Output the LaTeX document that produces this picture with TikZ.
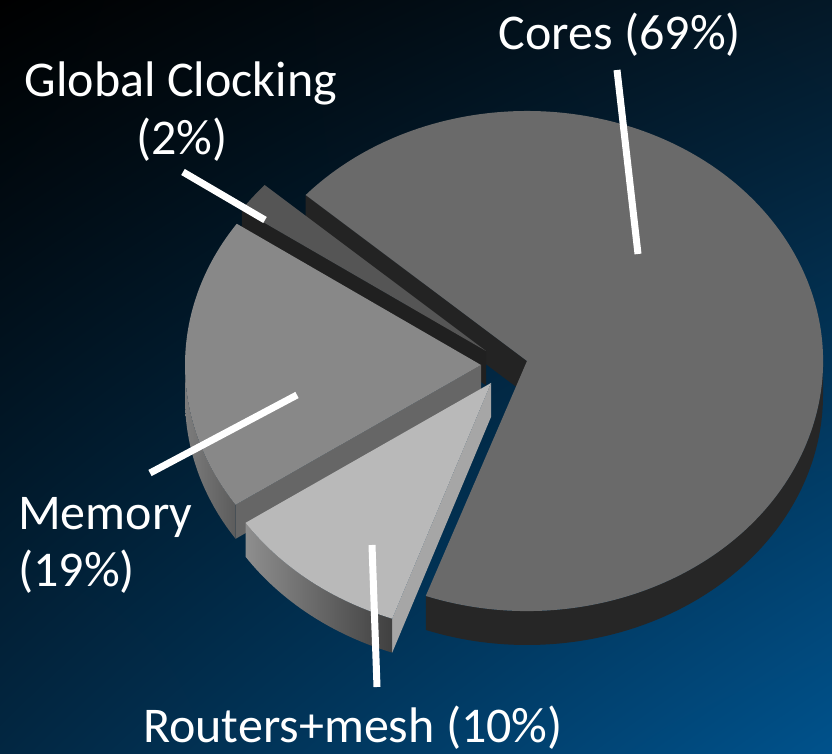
\documentclass[tikz,border=0pt]{standalone}
\usepackage{fontspec}
\setmainfont{Carlito}
\usetikzlibrary{calc,shadings}

% slice colours: top face, cut (radial) face, outer wall
\definecolor{coresTop}{HTML}{6A6A6A}
\definecolor{coresWall}{HTML}{262626}
\definecolor{coresCut}{HTML}{232323}
\definecolor{clockTop}{HTML}{555555}
\definecolor{clockCut}{HTML}{202020}
\definecolor{memTop}{HTML}{888888}
\definecolor{memCut}{HTML}{666666}
\definecolor{memWallL}{HTML}{7C7C7C}
\definecolor{memWallR}{HTML}{5C5C5C}
\definecolor{rtTop}{HTML}{B9B9B9}
\definecolor{rtCut}{HTML}{A6A6A6}
\definecolor{rtWallL}{HTML}{8E8E8E}
\definecolor{rtWallR}{HTML}{404040}
\definecolor{bgTR}{HTML}{041827}
\definecolor{bgBL}{HTML}{022742}
\definecolor{bgBR}{HTML}{00528C}

\tikzset{
  lbl/.style={text=white, inner sep=0pt, font=\fontsize{50}{57}\selectfont},
  leader/.style={draw=white, line width=7pt, line cap=butt},
  pieR/.style={x radius=296pt, y radius=250pt}
}

\begin{document}
\begin{tikzpicture}[x=1pt, y=1pt]
  \useasboundingbox (0,0) rectangle (832,754);
  \shade[upper left=black, upper right=bgTR, lower left=bgBL, lower right=bgBR]
    (0,0) rectangle (832,754);

  % apexes of the exploded slices
  \coordinate (cores) at (527,393);
  \coordinate (clock) at (486,403);
  \coordinate (mem)   at (481,389);
  \coordinate (rt)    at (491,371);

  % ---- Cores, 69% ----
  \fill[coresCut] (cores) -- ++(138.4:296pt and 250pt) -- ++(0,-34)
    -- ++(-41.6:296pt and 250pt) -- cycle;
  \fill[coresWall] ($(cores)+(-110:296pt and 250pt)$)
    arc[start angle=-110, end angle=0, pieR] -- ++(0,-34)
    arc[start angle=0, end angle=-110, pieR] -- cycle;
  \fill[coresTop] (cores) -- ++(-110:296pt and 250pt)
    arc[start angle=-110, end angle=138.4, pieR] -- cycle;

  % ---- Global Clocking, 2% ----
  \fill[clockCut] (clock) -- ++(145.6:296pt and 250pt) -- ++(0,-34)
    -- ++(-34.4:296pt and 250pt) -- cycle;
  \fill[clockTop] (clock) -- ++(138.4:296pt and 250pt)
    arc[start angle=138.4, end angle=145.6, pieR] -- cycle;

  % ---- Memory, 19% ----
  \fill[memCut] (mem) -- ++(214:296pt and 250pt) -- ++(0,-34)
    -- ++(34:296pt and 250pt) -- cycle;
  \shade[left color=memWallL, right color=memWallR] ($(mem)+(180:296pt and 250pt)$)
    arc[start angle=180, end angle=214, pieR] -- ++(0,-34)
    arc[start angle=214, end angle=180, pieR] -- cycle;
  \fill[memTop] (mem) -- ++(145.6:296pt and 250pt)
    arc[start angle=145.6, end angle=214, pieR] -- cycle;

  % ---- Routers+mesh, 10% ----
  \fill[rtCut] (rt) -- ++(250.5:296pt and 250pt) -- ++(0,-34)
    -- ++(70.5:296pt and 250pt) -- cycle;
  \shade[left color=rtWallL, right color=rtWallR] ($(rt)+(214:296pt and 250pt)$)
    arc[start angle=214, end angle=250.5, pieR] -- ++(0,-34)
    arc[start angle=250.5, end angle=214, pieR] -- cycle;
  \fill[rtTop] (rt) -- ++(214:296pt and 250pt)
    arc[start angle=214, end angle=250.5, pieR] -- cycle;

  % ---- labels ----
  \node[lbl, anchor=base] (coresLbl) at (620,704) {Cores (69\%)};
  \node[lbl, anchor=base] (clockLbl) at (181,657) {Global Clocking};
  \node[lbl, anchor=base] (clockPct) at (182,599) {(2\%)};
  \node[lbl, anchor=base west] (memLbl) at (18,224) {Memory};
  \node[lbl, anchor=base west] (memPct) at (18,167) {(19\%)};
  \node[lbl, anchor=base west] (rtLbl) at (143,11) {Routers+mesh (10\%)};

  % ---- leader lines ----
  \coordinate (coresA) at (617,684);  \coordinate (coresB) at (638,500);
  \coordinate (clockA) at (183,582);  \coordinate (clockB) at (265,534);
  \coordinate (memA)   at (150,281);  \coordinate (memB)   at (297,359);
  \coordinate (rtA)    at (377,67);   \coordinate (rtB)    at (372,209);
  \draw[leader] (coresA) -- (coresB);
  \draw[leader] (clockA) -- (clockB);
  \draw[leader] (memA) -- (memB);
  \draw[leader] (rtA) -- (rtB);
\end{tikzpicture}
\end{document}
